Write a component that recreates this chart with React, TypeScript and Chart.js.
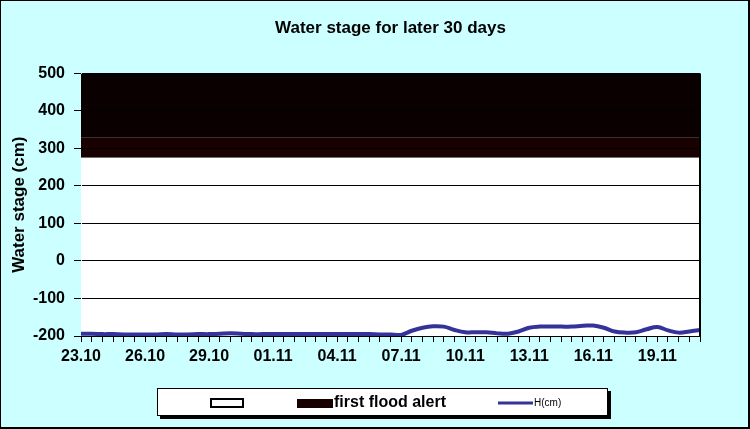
import React, { useEffect, useRef } from 'react';
import { Chart, registerables } from 'chart.js';

Chart.register(...registerables);

// ---- data ----
const CATEGORIES: string[] = [
  '23.10 00h', '23.10 12h', '24.10 00h', '24.10 12h', '25.10 00h', '25.10 12h',
  '26.10 00h', '26.10 12h', '27.10 00h', '27.10 12h', '28.10 00h', '28.10 12h',
  '29.10 00h', '29.10 12h', '30.10 00h', '30.10 12h', '31.10 00h', '31.10 12h',
  '01.11 00h', '01.11 12h', '02.11 00h', '02.11 12h', '03.11 00h', '03.11 12h',
  '04.11 00h', '04.11 12h', '05.11 00h', '05.11 12h', '06.11 00h', '06.11 12h',
  '07.11 00h', '07.11 12h', '08.11 00h', '08.11 12h', '09.11 00h', '09.11 12h',
  '10.11 00h', '10.11 12h', '11.11 00h', '11.11 12h', '12.11 00h', '12.11 12h',
  '13.11 00h', '13.11 12h', '14.11 00h', '14.11 12h', '15.11 00h', '15.11 12h',
  '16.11 00h', '16.11 12h', '17.11 00h', '17.11 12h', '18.11 00h', '18.11 12h',
  '19.11 00h', '19.11 12h', '20.11 00h', '20.11 12h', '21.11 00h',
];

const TICK_LABELS: string[] = [
  '23.10', '26.10', '29.10', '01.11', '04.11', '07.11', '10.11', '13.11', '16.11', '19.11',
];

const H_VALUES: number[] = [
  -194, -194, -195, -195, -196, -196, -196, -196, -195, -196,
  -196, -195, -195, -194, -193, -194, -195, -195, -195, -195,
  -195, -195, -195, -195, -195, -195, -195, -195, -196, -196,
  -197, -186, -178, -174, -175, -184, -190, -190, -190, -193,
  -194, -188, -178, -175, -175, -175, -175, -173, -172, -178,
  -188, -191, -190, -182, -176, -185, -191, -188, -184,
];

const NORMAL_TOP: number[] = [275, 275];
const FLOOD_ALERT_TOP: number[] = [330, 330];
const UPPER_TOP: number[] = [500, 500];

const Y_MIN = -200;
const Y_MAX = 500;
const Y_STEP = 100;

const FONT = "'Liberation Sans', Arial, sans-serif";

const edgePoints = (vals: number[]) => [
  { x: CATEGORIES[0], y: vals[0] },
  { x: CATEGORIES[CATEGORIES.length - 1], y: vals[1] },
];

const backgroundPlugin = {
  id: 'bgFrame',
  beforeDraw(chart: any) {
    const { ctx, width, height } = chart;
    ctx.save();
    ctx.fillStyle = '#CCFFFF';
    ctx.fillRect(0, 0, width, height);
    ctx.fillStyle = '#000';
    ctx.fillRect(width - 2, 0, 2, height);
    ctx.fillRect(0, height - 2, width, 2);
    ctx.strokeStyle = '#000';
    ctx.lineWidth = 1;
    ctx.strokeRect(0.5, 0.5, width - 2, height - 2);
    ctx.restore();
  },
  afterDraw(chart: any) {
    const { ctx, chartArea } = chart;
    ctx.save();
    ctx.strokeStyle = '#000';
    ctx.lineWidth = 2;
    ctx.beginPath();
    ctx.moveTo(chartArea.right, chartArea.top);
    ctx.lineTo(chartArea.right, chartArea.bottom);
    ctx.stroke();

    // legend
    const ds = chart.data.datasets;
    const lx = 157, ly = 388, lw = 451, lh = 28;
    ctx.fillStyle = '#000';
    ctx.fillRect(lx + 3, ly + 3, lw, lh);
    ctx.fillStyle = '#fff';
    ctx.fillRect(lx, ly, lw, lh);
    ctx.lineWidth = 1;
    ctx.strokeRect(lx + 0.5, ly + 0.5, lw - 1, lh - 1);
    const cy = ly + 15;
    // white swatch
    ctx.fillStyle = '#fff';
    ctx.fillRect(211, cy - 4, 32, 8);
    ctx.lineWidth = 2;
    ctx.strokeRect(211, cy - 4, 32, 8);
    // flood alert swatch
    ctx.fillStyle = '#160000';
    ctx.fillRect(297, cy - 4, 36, 9);
    ctx.fillStyle = '#000';
    ctx.font = `bold 16px ${FONT}`;
    ctx.textBaseline = 'middle';
    ctx.textAlign = 'left';
    ctx.fillText(ds[2].label, 334, cy);
    // line swatch
    ctx.strokeStyle = '#333399';
    ctx.lineWidth = 3;
    ctx.beginPath();
    ctx.moveTo(498, cy);
    ctx.lineTo(533, cy);
    ctx.stroke();
    ctx.fillStyle = '#000';
    ctx.font = `10px ${FONT}`;
    ctx.fillText(ds[0].label, 534, cy);
    ctx.restore();
  },
};

export default function App() {
  const ref = useRef<HTMLCanvasElement | null>(null);

  useEffect(() => {
    document.body.style.margin = '0';
    const canvas = ref.current;
    if (!canvas) return;
    const chart = new Chart(canvas, {
      type: 'line',
      data: {
        labels: CATEGORIES,
        datasets: [
          {
            label: 'H(cm)',
            data: H_VALUES,
            borderColor: '#333399',
            borderWidth: 4,
            pointRadius: 0,
            tension: 0.4,
            fill: false,
          },
          {
            label: '',
            data: edgePoints(NORMAL_TOP) as any,
            borderWidth: 0,
            pointRadius: 0,
            backgroundColor: '#FFFFFF',
            fill: 'start',
          },
          {
            label: 'first flood alert',
            data: edgePoints(FLOOD_ALERT_TOP) as any,
            borderWidth: 0,
            pointRadius: 0,
            backgroundColor: '#1A0101',
            fill: '-1',
          },
          {
            label: '',
            data: edgePoints(UPPER_TOP) as any,
            borderWidth: 0,
            pointRadius: 0,
            backgroundColor: '#0A0000',
            fill: '-1',
          },
        ],
      },
      options: {
        responsive: false,
        animation: false,
        devicePixelRatio: 1,
        layout: { padding: { left: 0, right: 50, top: 0, bottom: 63 } },
        plugins: {
          legend: { display: false },
          tooltip: { enabled: false },
          title: {
            display: true,
            text: 'Water stage for later 30 days',
            color: '#000',
            fullSize: false,
            font: { family: FONT, size: 17, weight: 'bold' },
            padding: { top: 18, bottom: 35 },
          },
        },
        scales: {
          x: {
            type: 'category',
            offset: false,
            afterFit: (s: any) => { s.height = 30; },
            grid: {
              display: true,
              drawOnChartArea: false,
              drawTicks: true,
              tickLength: 6,
              color: '#000',
            },
            border: { color: '#000', width: 1 },
            ticks: {
              autoSkip: false,
              maxRotation: 0,
              minRotation: 0,
              padding: 5,
              color: '#000',
              font: { family: FONT, size: 16, weight: 'bold' },
              callback: (_v: any, i: number) => {
                const c = CATEGORIES[i];
                const d = c.slice(0, 5);
                return c.endsWith('00h') && TICK_LABELS.includes(d) ? d : '';
              },
            },
          },
          y: {
            min: Y_MIN,
            max: Y_MAX,
            afterFit: (s: any) => { s.width = 81; },
            grid: { color: '#000', lineWidth: 1, tickLength: 7, z: 1 },
            border: { color: '#000', width: 1 },
            ticks: {
              stepSize: Y_STEP,
              padding: 9,
              color: '#000',
              font: { family: FONT, size: 16, weight: 'bold' },
            },
            title: {
              display: true,
              text: 'Water stage (cm)',
              color: '#000',
              font: { family: FONT, size: 17, weight: 'bold' },
              padding: { top: 9, bottom: 0 },
            },
          },
        },
      },
      plugins: [backgroundPlugin],
    });
    return () => chart.destroy();
  }, []);

  return <canvas ref={ref} width={750} height={429} style={{ display: 'block' }} />;
}
